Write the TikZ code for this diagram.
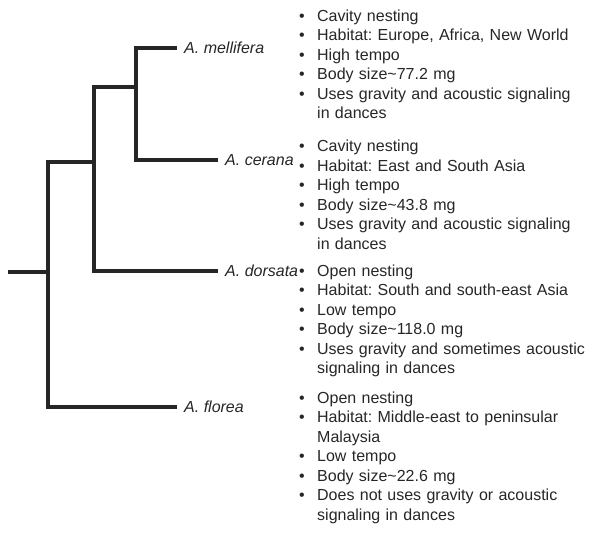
\documentclass[tikz,border=0pt]{standalone}
\usepackage{fontspec}
\setmainfont{Liberation Sans}
\frenchspacing

\definecolor{treegray}{RGB}{38,38,38}
\newcommand{\bul}{\makebox[18pt][l]{\textbullet}}
\newcommand{\cnt}{\hspace*{18pt}}

\begin{document}
\begin{tikzpicture}[x=1pt, y=-1pt, baseline=(current bounding box.center)]
			\useasboundingbox (0,0) rectangle (600,534);
			\node[shape=coordinate] (s) at (  8,272) {};
			\node[shape=coordinate] (r) at ( 48,272) {};
			\node[shape=coordinate] (p) at ( 94,162) {};
			\node[shape=coordinate] (q) at (136, 87) {};
			\begin{scope}[font=\fontsize{16}{19.5}\selectfont\itshape, text=treegray, anchor=west, inner sep=0pt, inner xsep=7pt]
				\node (mel) at (177, 48) {A. mellifera};
				\node (cer) at (218,160) {A. cerana};
				\node (dor) at (218,271) {A. dorsata};
				\node (flo) at (177,407) {A. florea};
			\end{scope}
			\begin{scope}[line width=4pt, draw=treegray]
				\draw (mel.west) -| (q) |- (cer.west);
				\draw (q) -| (p) |- (dor.west);
				\draw (p) -| (r) |- (flo.west);
				\draw (s) -- (r);
			\end{scope}
			\begin{scope}[font=\fontsize{16}{19.5}\selectfont, text=treegray, anchor=north west, inner sep=0pt, text width=300pt, align=left]
				\node (mel-i) at (299,9.4) {\bul Cavity nesting\\
					\bul Habitat: Europe, Africa, New World\\
					\bul High tempo\\
					\bul Body size\textasciitilde 77.2 mg\\
					\bul Uses gravity and acoustic signaling\\
					\cnt in dances};
				\node (cer-i) at (299,140) {\bul Cavity nesting\\
					\bul Habitat: East and South Asia\\
					\bul High tempo\\
					\bul Body size\textasciitilde 43.8 mg\\
					\bul Uses gravity and acoustic signaling\\
					\cnt in dances};
				\node (dor-i) at (299,264.4) {\bul Open nesting\\
					\bul Habitat: South and south-east Asia\\
					\bul Low tempo\\
					\bul Body size\textasciitilde 118.0 mg\\
					\bul Uses gravity and sometimes acoustic\\
					\cnt signaling in dances};
				\node (flo-i) at (299,391.4) {\bul Open nesting\\
					\bul Habitat: Middle-east to peninsular\\
					\cnt Malaysia\\
					\bul Low tempo\\
					\bul Body size\textasciitilde 22.6 mg\\
					\bul Does not uses gravity or acoustic\\
					\cnt signaling in dances};
			\end{scope}
		\end{tikzpicture}
\end{document}
